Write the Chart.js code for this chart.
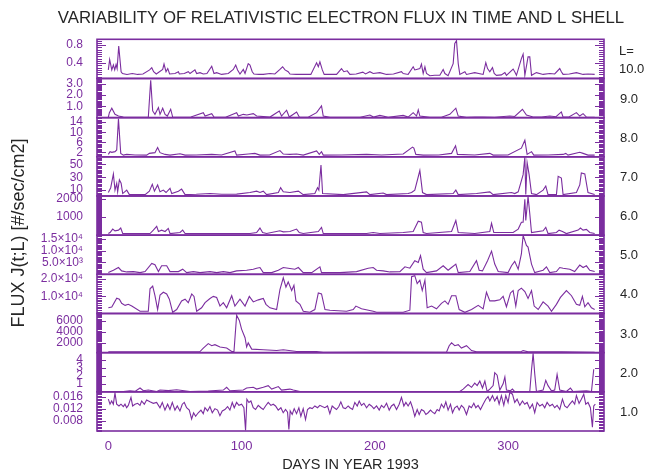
<!DOCTYPE html>
<html>
<head>
<meta charset="utf-8">
<script src="https://cdn.jsdelivr.net/npm/chart.js@4.4.0/dist/chart.umd.min.js"></script>
<style>
  html, body { margin: 0; padding: 0; background: #fff; }
  #wrap { position: relative; width: 652px; height: 472px; }
</style>
</head>
<body>
<div id="wrap"><canvas id="flux" width="652" height="472"></canvas></div>
<script>
// [day, flux] pairs, one array per L shell
const p1Flux = [[0,0.25],[1,0.48],[2.6,0.25],[3.8,0.36],[4.8,0.25],[5.8,0.37],[6.6,0.28],[7.8,0.78],[9.6,0.21],[10.6,0.17],[14,0.15],[18,0.17],[22,0.15],[26,0.16],[31,0.25],[32.6,0.30],[34,0.21],[36,0.16],[40.8,0.26],[41.8,0.38],[43.3,0.21],[44.6,0.28],[46,0.16],[50,0.17],[52.6,0.21],[53.3,0.16],[57,0.17],[60,0.21],[61.3,0.17],[65,0.25],[66.3,0.17],[68.8,0.19],[71.3,0.16],[74,0.17],[77.6,0.33],[79.3,0.17],[81.3,0.19],[85,0.15],[90,0.17],[93.8,0.26],[95.6,0.36],[97,0.25],[98.8,0.16],[101.3,0.26],[102.6,0.17],[105,0.39],[106.3,0.36],[108,0.21],[109.3,0.16],[113,0.15],[116.3,0.15],[121.3,0.17],[125,0.16],[128.8,0.26],[130.8,0.32],[132.6,0.25],[135,0.21],[136.3,0.16],[141,0.15],[146.3,0.15],[152,0.15],[156.3,0.41],[157.6,0.32],[158.8,0.43],[160.6,0.25],[162,0.15],[167,0.15],[171.3,0.15],[175,0.28],[176.8,0.21],[179.3,0.23],[181.3,0.15],[186,0.16],[191,0.20],[193,0.16],[196.3,0.21],[198.8,0.17],[203.8,0.19],[208.8,0.15],[214,0.16],[220,0.21],[221.3,0.17],[225,0.15],[228.8,0.32],[230,0.25],[231.3,0.26],[233.8,0.28],[235,0.38],[236.3,0.17],[237.6,0.32],[238.8,0.17],[241.3,0.12],[245,0.13],[248.8,0.13],[251.3,0.26],[252.6,0.17],[255,0.12],[258.8,0.39],[260,0.84],[261.3,0.90],[262.6,0.39],[263.8,0.15],[267.6,0.21],[268.8,0.15],[272,0.17],[275,0.19],[281.3,0.15],[283.3,0.41],[284.6,0.28],[286.3,0.21],[288.3,0.30],[289.6,0.17],[291.3,0.13],[295,0.14],[297.6,0.19],[298.8,0.13],[303.8,0.27],[305,0.21],[306.3,0.13],[310,0.50],[311.3,0.60],[312.6,0.13],[315,0.54],[316.3,0.54],[317.6,0.13],[321.3,0.19],[326.3,0.15],[331.3,0.17],[335,0.16],[338.8,0.28],[340,0.21],[341.3,0.15],[346,0.16],[351.3,0.19],[356.3,0.15],[360,0.16],[365,0.15]]

const p2Flux = [[0,0.05],[0.8,0.44],[2.6,0.83],[5,0.29],[7.6,0.14],[11.3,0.05],[16.3,0.02],[22,0.04],[30,0.02],[31.8,3.29],[33.3,0.59],[35,0.29],[37.6,0.89],[38.8,0.29],[40.8,0.83],[42.6,0.29],[44.3,0.14],[46.8,0.74],[48.3,0.05],[55,0.04],[62,0.05],[71.3,0.44],[72.6,0.14],[77.6,0.35],[79.3,0.05],[88,0.04],[96.3,0.44],[97.6,0.14],[101.3,0.29],[104,0.23],[108.8,0.35],[111.3,0.14],[121.3,0.05],[128.3,0.59],[130,0.14],[133.8,0.65],[135.8,0.05],[141.3,0.50],[143.3,0.05],[150,0.04],[156.3,0.44],[160,1.04],[161.3,0.14],[166.3,0.02],[174,0.03],[181.3,0.02],[189,0.03],[196.3,0.23],[199,0.05],[203.8,0.20],[210,0.04],[221.3,0.20],[225,0.05],[228.8,0.44],[231.3,0.14],[232.6,0.68],[233.8,0.14],[241.3,0.02],[250,0.04],[256.3,0.29],[260.8,0.83],[262.6,0.14],[268.8,0.02],[275,0.05],[281.3,0.05],[290,0.04],[301.3,0.14],[305,0.10],[310.8,0.74],[313.8,0.23],[318.8,0.05],[325,0.06],[331.3,0.14],[336,0.08],[340,0.50],[341.3,0.05],[346,0.08],[351.3,0.44],[353.8,0.14],[356.3,0.35],[358.8,0.05],[365,0.02]]

const p3Flux = [[0,1.16],[1.3,2.26],[2.6,1.99],[5,2.26],[6.3,2.95],[7.6,15.3],[9.3,1.57],[11.3,0.88],[13.8,1.16],[20,0.9],[28.8,0.88],[30.8,1.57],[35,1.85],[37,3.9],[38.8,1.85],[42.6,1.16],[46.3,0.88],[53.8,1.43],[57.6,0.88],[66,0.9],[77.6,1.16],[85,0.9],[95,2.54],[96.3,0.88],[105,1.3],[110,1.57],[113.8,0.88],[121,0.9],[128.8,2.67],[131.3,1.3],[136.3,1.16],[141.3,1.3],[146.3,0.88],[156.3,2.54],[158.3,1.16],[160,2.26],[161.3,0.88],[175,0.9],[193.8,1.16],[205,0.9],[221.3,1.3],[228.3,4.05],[229.3,3.65],[230.8,1.16],[236.3,0.88],[248,0.9],[257.6,1.57],[260.6,4.6],[262,1.16],[275,0.9],[286.3,1.57],[288.8,0.88],[300,0.95],[310,3.65],[312.6,6.8],[314.3,1.16],[317.6,2.26],[319.3,0.88],[330,0.9],[341.3,1.16],[343.3,1.57],[345,0.88],[353.8,1.99],[356.3,1.57],[360,0.88],[365,0.88]]

const p4Flux = [[0,6.27],[1.8,13.73],[3.8,35.07],[5,10],[6.3,20.67],[7,7.33],[8.3,26],[9.6,20.67],[10.8,4.67],[13.8,10],[15.8,3.07],[27.6,3.07],[30.8,8.4],[33,19.07],[34.6,8.4],[37,18],[38.8,7.33],[41.3,10],[43.3,6.27],[46.3,12.67],[47.6,4.67],[52.6,8.4],[55,11.6],[57.6,3.07],[66,3.5],[76.3,4.67],[85,3.5],[96.3,3.8],[106.3,6.27],[111.3,8.4],[113.8,6.27],[116.3,8.4],[118.8,3.07],[127.6,6.27],[129.3,13.73],[131.3,7.33],[136.3,6.27],[142.6,8.4],[146.3,3.07],[155,4.67],[157,13.73],[158,10],[159.6,48.93],[160.8,4.67],[176.3,3.07],[193.8,7.33],[196.3,3.07],[206.3,5.5],[208.8,3.07],[225,4.67],[227.6,6.27],[230,10],[233.8,40.4],[235.8,6.27],[238.8,3.07],[258.8,4.67],[260.8,10],[262.6,3.07],[276.3,4.67],[286.3,7.33],[288.8,3.07],[302.6,6.27],[305,4.67],[307.6,7.33],[311.3,34],[312.6,61.5],[313.3,3.07],[314.3,52.67],[315.8,34],[317.6,4.67],[321.3,3.07],[326.3,10],[328.3,16.4],[330,3.07],[336.3,3.07],[337.6,31.33],[340,28.67],[341.3,3.07],[351.3,6.27],[353.8,18],[355,36.67],[357.6,35.07],[360,6.27],[365,3.07]]

const p5Flux = [[0,89],[1.3,146],[3.3,335],[5,240],[7.6,278],[9.3,392],[10.8,89],[20,95],[31.3,89],[33.8,278],[36.3,487],[37.6,203],[40,278],[42.6,203],[45,373],[46.3,89],[53.8,146],[55.8,278],[57.6,89],[80,95],[106.3,89],[111.3,146],[113.8,392],[115.8,146],[118.8,89],[128.8,240],[131.3,184],[136.3,203],[141.3,335],[143.3,146],[146.3,89],[157.6,203],[160,430],[161.3,89],[180,95],[193.8,89],[198.8,146],[203.8,89],[221.3,146],[228.8,203],[232.6,771],[235,714],[236.3,146],[238.8,89],[257.6,203],[260.8,808],[262.6,146],[275,95],[286.3,203],[287.6,657],[289.3,146],[303.8,146],[307.6,335],[310,714],[311.3,714],[312.6,1982],[313.3,808],[315,2150],[316.3,1187],[317.6,146],[326.3,240],[328.3,430],[330,89],[336.3,146],[338.3,278],[340.8,203],[343.8,89],[352.6,278],[354.3,392],[356.3,278],[358.8,316],[361.3,146],[365,89]]

const p6Flux = [[0,720],[3.8,1720],[7.6,2870],[10,1440],[13.8,1010],[18.8,1150],[23.8,720],[27.6,1150],[32.6,4600],[35,4020],[37.6,1150],[40,3590],[43.8,3590],[46.3,1150],[52.6,1150],[55.8,2160],[58.8,720],[63.8,1150],[68.8,720],[76.3,1150],[81.3,720],[86.3,1150],[91.3,720],[96.3,1440],[103.8,1720],[108.8,2160],[111.3,2590],[113.8,2870],[116.3,720],[122.6,720],[127.6,1720],[131.3,2870],[135,2590],[140,2160],[142.6,2870],[146.3,720],[152.6,720],[158.8,3160],[160,720],[173.8,720],[186.3,1150],[195,2590],[198.8,2870],[201.3,1720],[206.3,1440],[211.3,1010],[218.8,1150],[222.6,3160],[226.3,2590],[230,5750],[232.6,5030],[234.3,7900],[236.3,2160],[238.8,720],[246.3,1440],[251.3,3590],[255,1720],[257.6,2870],[260.8,4310],[262.6,720],[271.3,1150],[276.3,5750],[278.3,1720],[280.8,1440],[284.6,5750],[287.6,9770],[290,4310],[292.6,1150],[300,720],[302.6,3590],[305,5460],[307.6,2160],[310,8620],[311.3,16400],[313.8,12200],[315,11500],[317.6,4310],[320,720],[326.3,1720],[328.8,3160],[331.3,720],[336.3,1150],[338.8,2870],[341.3,2590],[346.3,2160],[350,1150],[353.8,3880],[356.3,2870],[358.8,3590],[361.3,1720],[365,1150]]

const p7Flux = [[0,3300],[2.6,3700],[6.3,8900],[8.3,8300],[10,5900],[12.6,4700],[15,5300],[17.6,4300],[23.8,1300],[30,1300],[31.3,14300],[33.3,15900],[35,10300],[37,2300],[38.8,10700],[41.3,12300],[43.8,11300],[45.8,8300],[48.3,700],[51.3,2300],[55,7300],[57.6,8300],[60,6300],[62.6,11300],[64.3,9900],[66.3,1300],[70,3300],[72.6,6300],[76.3,8700],[78.8,9900],[81.3,9300],[83.8,4300],[86.3,6300],[88.8,3300],[92.6,10300],[95,4300],[98.8,8300],[102.6,4300],[105.8,9900],[108.8,6700],[112.6,7900],[116.3,8700],[118.3,5300],[121.3,3300],[126.3,2300],[128.8,13900],[131.3,20700],[133.3,15300],[135,18300],[137.6,13300],[139.3,16300],[140.8,7300],[143.8,5300],[146.3,1300],[151.3,700],[155,2300],[157.6,11900],[160,11300],[162.6,2300],[166.3,1900],[178.8,1300],[183.8,2300],[185.8,4300],[190,2700],[198.8,1300],[201.3,700],[221.3,700],[226.3,1900],[227.6,21300],[230,21900],[231.8,17300],[233.8,19300],[235.6,13300],[237.6,19300],[239.3,3300],[242.6,4300],[246.3,2700],[250,5900],[252.6,7300],[255,5300],[257.6,10300],[260.8,10300],[263.3,2300],[267.6,700],[272.6,2300],[277.6,4700],[281.3,2700],[283.8,12300],[286.3,7300],[290,7300],[293.8,7900],[296.3,9900],[298.8,3900],[301.8,11900],[303.8,13300],[305.8,4300],[307.6,13300],[310,14700],[312.6,12700],[315,8700],[317.6,13300],[319.6,4300],[322.6,2300],[326.3,6700],[330,4300],[332.6,1300],[336.3,5300],[339.3,9300],[343.8,13300],[347.6,10300],[351.3,5300],[353.8,4700],[355.8,9900],[357.6,3900],[360,6300],[362.6,3300],[365,2300]]

const p8Flux = [[0,290],[30,300],[60,320],[68.8,355],[71.3,990],[75,1810],[77.6,1430],[80,1620],[83.8,1180],[86.3,1100],[88.8,990],[92.6,355],[94.3,355],[96.3,7000],[98.3,6050],[100,4470],[102.6,2890],[103.8,1180],[105,1940],[107.6,800],[116.3,670],[126.3,540],[131.3,670],[141.3,355],[156.3,355],[161.3,230],[200,240],[253.8,230],[255.8,1430],[257.6,1940],[260,1430],[262.6,1620],[265,990],[268.8,1430],[272.6,540],[276.3,290],[300,300],[310,355],[311.3,540],[315,290],[340,300],[365,230]]

const p9Flux = [[0,0.04],[11.3,0.04],[16.3,0.13],[20,0.06],[23.8,0.47],[26.3,0.13],[30,0.22],[36.3,0.04],[38.8,0.22],[45,0.15],[51.3,0.26],[61.3,0.04],[75,0.10],[86.3,0.22],[88.8,0.56],[91.3,0.13],[101.3,0.22],[103.8,0.47],[108.8,0.56],[111.3,0.34],[116.3,0.56],[120,0.77],[122.6,0.34],[127.6,0.65],[130,0.22],[136.3,0.34],[138.8,0.22],[143.8,0.04],[263.8,0.04],[266.3,0.34],[270,0.90],[272.6,0.56],[275,1.08],[276.8,0.77],[278.8,1.33],[280.8,0.47],[282.6,1.33],[284.3,0.04],[286.3,0.34],[288.8,0.77],[290,2.37],[291.8,2.06],[293.8,0.22],[296.3,0.99],[297.6,1.85],[298.8,0.22],[301.8,0.13],[303.3,0.34],[305,0.04],[316.3,0.04],[317.6,2.71],[318.8,4.77],[320,2.28],[321.3,0.04],[326.3,0.22],[328.3,1.42],[330,0.77],[332.6,0.13],[335,0.22],[336.8,2.15],[338.8,0.22],[343.8,0.04],[346.8,0.47],[348.8,0.04],[358.8,0.13],[362.6,0.04],[364.3,2.80]]

const p10Flux = [[0,0.0153],[1.25,0.0136],[2.5,0.0147],[3.75,0.0136],[5,0.0174],[6.25,0.0136],[8,0.0130],[9.5,0.0136],[11.25,0.0128],[12.5,0.0136],[13.75,0.0124],[15,0.0132],[17,0.0159],[18.25,0.0130],[20,0.0136],[22,0.0139],[23.75,0.0132],[25,0.0147],[27,0.0136],[28.75,0.0150],[31.25,0.0144],[33.75,0.0139],[36.25,0.0142],[38.75,0.0124],[40.5,0.0142],[42.5,0.0116],[44.5,0.0136],[46.25,0.0118],[48,0.0142],[50,0.0116],[51.75,0.0130],[53.75,0.0113],[55.5,0.0136],[57,0.0142],[58.75,0.0124],[60.75,0.0116],[62.5,0.0086],[64,0.0107],[65.5,0.0095],[67.5,0.0107],[69.5,0.0116],[71.25,0.0104],[72.5,0.0124],[74.5,0.0113],[76.25,0.0128],[78,0.0107],[80,0.0121],[82,0.0116],[83.75,0.0097],[85.5,0.0113],[87.5,0.0118],[89.5,0.0128],[91.25,0.0116],[93,0.0142],[94.5,0.0124],[96.25,0.0142],[98,0.0132],[100,0.0136],[101.75,0.0124],[103,0.0047],[104,0.0153],[105.5,0.0142],[107,0.0147],[108.75,0.0124],[110.5,0.0118],[112.5,0.0132],[114.5,0.0124],[116.25,0.0118],[118,0.0130],[120,0.0142],[122,0.0132],[123.75,0.0136],[125.5,0.0130],[127.5,0.0116],[129.5,0.0124],[131.25,0.0107],[133,0.0118],[134.5,0.0109],[135.5,0.0050],[136.5,0.0113],[138,0.0101],[139.5,0.0121],[141.25,0.0104],[143,0.0124],[144.5,0.0095],[146.25,0.0121],[148,0.0084],[149.5,0.0118],[151.25,0.0124],[153,0.0121],[155,0.0130],[157,0.0124],[158.75,0.0132],[160.5,0.0128],[162.5,0.0124],[164.5,0.0130],[166.25,0.0104],[168,0.0130],[169.5,0.0124],[171.25,0.0118],[173,0.0128],[174.5,0.0144],[176.25,0.0124],[178,0.0121],[180,0.0130],[181.3,0.0124],[183.3,0.0118],[185,0.0142],[186.8,0.0130],[188.3,0.0147],[190,0.0132],[191.8,0.0139],[193.8,0.0124],[195.8,0.0136],[197.5,0.0130],[199.3,0.0121],[201.3,0.0130],[203.3,0.0116],[205,0.0132],[206.8,0.0124],[208.8,0.0139],[210.8,0.0116],[212.5,0.0130],[214.3,0.0136],[216.3,0.0118],[218.3,0.0136],[220,0.0159],[221.8,0.0130],[223.3,0.0142],[225,0.0130],[226.8,0.0144],[228.3,0.0124],[230,0.0095],[231.8,0.0118],[233.3,0.0101],[235,0.0118],[236.8,0.0113],[238.3,0.0101],[240,0.0107],[241.8,0.0116],[243.3,0.0109],[245,0.0104],[246.8,0.0118],[248.3,0.0113],[250,0.0136],[251.8,0.0124],[253.3,0.0144],[255,0.0116],[256.8,0.0136],[258.3,0.0107],[260,0.0124],[261.8,0.0130],[263.3,0.0116],[265,0.0132],[266.8,0.0124],[268.8,0.0101],[270.8,0.0130],[272.5,0.0124],[274.3,0.0139],[275.8,0.0124],[277.5,0.0132],[279.3,0.0118],[281.3,0.0136],[283.3,0.0153],[285,0.0162],[286.3,0.0147],[288.3,0.0165],[290,0.0147],[291.8,0.0162],[293.3,0.0136],[295,0.0165],[296.8,0.0132],[298.3,0.0165],[300,0.0142],[301.3,0.0176],[303.3,0.0170],[305,0.0142],[306.8,0.0153],[308.8,0.0132],[310.8,0.0147],[312.5,0.0136],[314.3,0.0142],[316.3,0.0121],[318.3,0.0136],[320,0.0107],[321.8,0.0142],[323.8,0.0130],[325.8,0.0136],[327.5,0.0124],[329.3,0.0142],[331.3,0.0130],[333.3,0.0136],[335,0.0124],[336.8,0.0132],[338.8,0.0118],[340.8,0.0153],[342.5,0.0130],[344.3,0.0124],[346.3,0.0136],[348.3,0.0147],[350,0.0136],[351.3,0.0165],[353.3,0.0139],[355,0.0153],[356.8,0.0170],[358.3,0.0136],[360,0.0142],[361.8,0.0124],[363.3,0.0058],[364.3,0.0130],[365.5,0.0136]]

// tick values and their printed text
const dayTicks = [0, 100, 200, 300]
const p1Ticks = [0.4, 0.8],             p1Text = ['0.4', '0.8']
const p2Ticks = [1, 2, 3],              p2Text = ['1.0', '2.0', '3.0']
const p3Ticks = [2, 6, 10, 14],         p3Text = ['2', '6', '10', '14']
const p4Ticks = [10, 30, 50],           p4Text = ['10', '30', '50']
const p5Ticks = [1000, 2000],           p5Text = ['1000', '2000']
const p6Ticks = [5000, 10000, 15000],   p6Text = ['5.0\u00d710\u00b3', '1.0\u00d710\u2074', '1.5\u00d710\u2074']
const p7Ticks = [10000, 20000],         p7Text = ['1.0\u00d710\u2074', '2.0\u00d710\u2074']
const p8Ticks = [2000, 4000, 6000],     p8Text = ['2000', '4000', '6000']
const p9Ticks = [1, 2, 3, 4],           p9Text = ['1', '2', '3', '4']
const p10Ticks = [0.008, 0.012, 0.016], p10Text = ['0.008', '0.012', '0.016']

const PURPLE = '#7b2d9f'
const INK = '#262626'
const FONT = "'Liberation Sans', Arial, Helvetica, sans-serif"

// one panel per L shell, top to bottom
const panels = [
    { id: 'p1',  shell: '10.0', data: p1Flux,  min: 0.06,   max: 0.93,   step: 0.05,   ticks: p1Ticks,  text: p1Text },
    { id: 'p2',  shell: '9.0',  data: p2Flux,  min: 0,      max: 3.45,   step: 0.1,    ticks: p2Ticks,  text: p2Text },
    { id: 'p3',  shell: '8.0',  data: p3Flux,  min: 0.2,    max: 15.8,   step: 0.5,    ticks: p3Ticks,  text: p3Text },
    { id: 'p4',  shell: '7.0',  data: p4Flux,  min: 0.9,    max: 61.7,   step: 2,      ticks: p4Ticks,  text: p4Text },
    { id: 'p5',  shell: '6.0',  data: p5Flux,  min: 0,      max: 2170,   step: 50,     ticks: p5Ticks,  text: p5Text },
    { id: 'p6',  shell: '5.0',  data: p6Flux,  min: 0,      max: 16500,  step: 500,    ticks: p6Ticks,  text: p6Text },
    { id: 'p7',  shell: '4.0',  data: p7Flux,  min: 0,      max: 22700,  step: 1000,   ticks: p7Ticks,  text: p7Text },
    { id: 'p8',  shell: '3.0',  data: p8Flux,  min: 150,    max: 7330,   step: 200,    ticks: p8Ticks,  text: p8Text },
    { id: 'p9',  shell: '2.0',  data: p9Flux,  min: 0,      max: 4.86,   step: 0.1,    ticks: p9Ticks,  text: p9Text },
    { id: 'p10', shell: '1.0',  data: p10Flux, min: 0.0045, max: 0.0178, step: 0.0005, ticks: p10Ticks, text: p10Text }
]

//-------------
//- SCALES -
//-------------
const scales = {
    x: {
        type: 'linear',
        position: 'bottom',
        min: -8.5,
        max: 372,
        grid: { display: false },
        border: { display: false },
        ticks: { color: PURPLE, font: { family: FONT, size: 13 }, padding: 0, autoSkip: false, maxRotation: 0 },
        afterBuildTicks: (s) => { s.ticks = dayTicks.map((v) => ({ value: v })) },
        title: {
            display: true,
            text: 'DAYS IN YEAR 1993',
            color: INK,
            font: { family: FONT, size: 14.5, lineHeight: 1 },
            padding: { top: 0, bottom: 0 }
        },
        afterFit: (s) => { s.height = 41 }
    }
}
// stacked left axes are laid out from the last added, so add the bottom panel first
panels.slice().reverse().forEach((p) => {
    scales[p.id] = {
        type: 'linear',
        position: 'left',
        stack: 'flux',
        stackWeight: 1,
        min: p.min,
        max: p.max,
        grid: { display: false },
        border: { display: false },
        ticks: {
            color: PURPLE,
            font: { family: FONT, size: 12 },
            padding: 6,
            autoSkip: false,
            callback: (v, i) => p.text[i]
        },
        afterBuildTicks: (s) => { s.ticks = p.ticks.map((v) => ({ value: v })) },
        afterFit: (s) => { s.width = 97 }
    }
})

// frames, inward tick marks on both sides, titles and L labels
const panelFrames = {
    id: 'panelFrames',
    afterDatasetsDraw(chart) {
        const ctx = chart.ctx
        const a = chart.chartArea
        ctx.save()
        ctx.strokeStyle = PURPLE
        panels.forEach((p) => {
            const s = chart.scales[p.id]
            ctx.lineWidth = 1
            ctx.beginPath()
            const n0 = Math.ceil(s.min / p.step - 1e-6)
            const n1 = Math.floor(s.max / p.step + 1e-6)
            for (let n = n0; n <= n1; n++) {
                const v = n * p.step
                const y = Math.round(s.getPixelForValue(v)) + 0.5
                const major = p.ticks.some((t) => Math.abs(t - v) < p.step / 2)
                const len = major ? 9 : 5
                ctx.moveTo(a.left, y)
                ctx.lineTo(a.left + len, y)
                ctx.moveTo(a.right - len, y)
                ctx.lineTo(a.right, y)
            }
            ctx.stroke()
            ctx.lineWidth = 1.6
            ctx.strokeRect(a.left, s.top, a.right - a.left, s.bottom - s.top)
        })
        ctx.restore()
    },
    afterDraw(chart) {
        const ctx = chart.ctx
        const a = chart.chartArea
        ctx.save()
        ctx.fillStyle = INK
        ctx.textBaseline = 'middle'

        ctx.textAlign = 'center'
        ctx.font = '16.8px ' + FONT
        ctx.fillText('VARIABILITY OF RELATIVISTIC ELECTRON FLUX IN TIME AND L SHELL', 341, 18)

        ctx.save()
        ctx.translate(19, 233)
        ctx.rotate(-Math.PI / 2)
        ctx.font = '18px ' + FONT
        ctx.fillText('FLUX J(t;L) [#/sec/cm2]', 0, 0)
        ctx.restore()

        ctx.textAlign = 'left'
        ctx.font = '13px ' + FONT
        panels.forEach((p, i) => {
            const s = chart.scales[p.id]
            const mid = (s.top + s.bottom) / 2 + 1
            if (i === 0) {
                ctx.fillText('L=', a.right + 15, 51.5)
                ctx.fillText(p.shell, a.right + 15, 69.5)
            } else {
                ctx.fillText(p.shell, a.right + 16, mid)
            }
        })
        ctx.restore()
    }
}

const fluxCanvas = document.getElementById('flux').getContext('2d')
new Chart(fluxCanvas, {
    type: 'line',
    data: {
        datasets: panels.map((p) => ({
            data: p.data.map(([d, f]) => ({ x: d, y: f })),
            xAxisID: 'x',
            yAxisID: p.id,
            borderColor: PURPLE,
            borderWidth: 1.1,
            pointRadius: 0,
            tension: 0,
            fill: false
        }))
    },
    options: {
        responsive: false,
        animation: false,
        devicePixelRatio: 1,
        layout: { padding: { top: 39.3, right: 48, left: 0, bottom: 0 } },
        plugins: {
            legend: { display: false },
            tooltip: { enabled: false },
            title: { display: false }
        },
        scales: scales
    },
    plugins: [panelFrames]
})
</script>
</body>
</html>
